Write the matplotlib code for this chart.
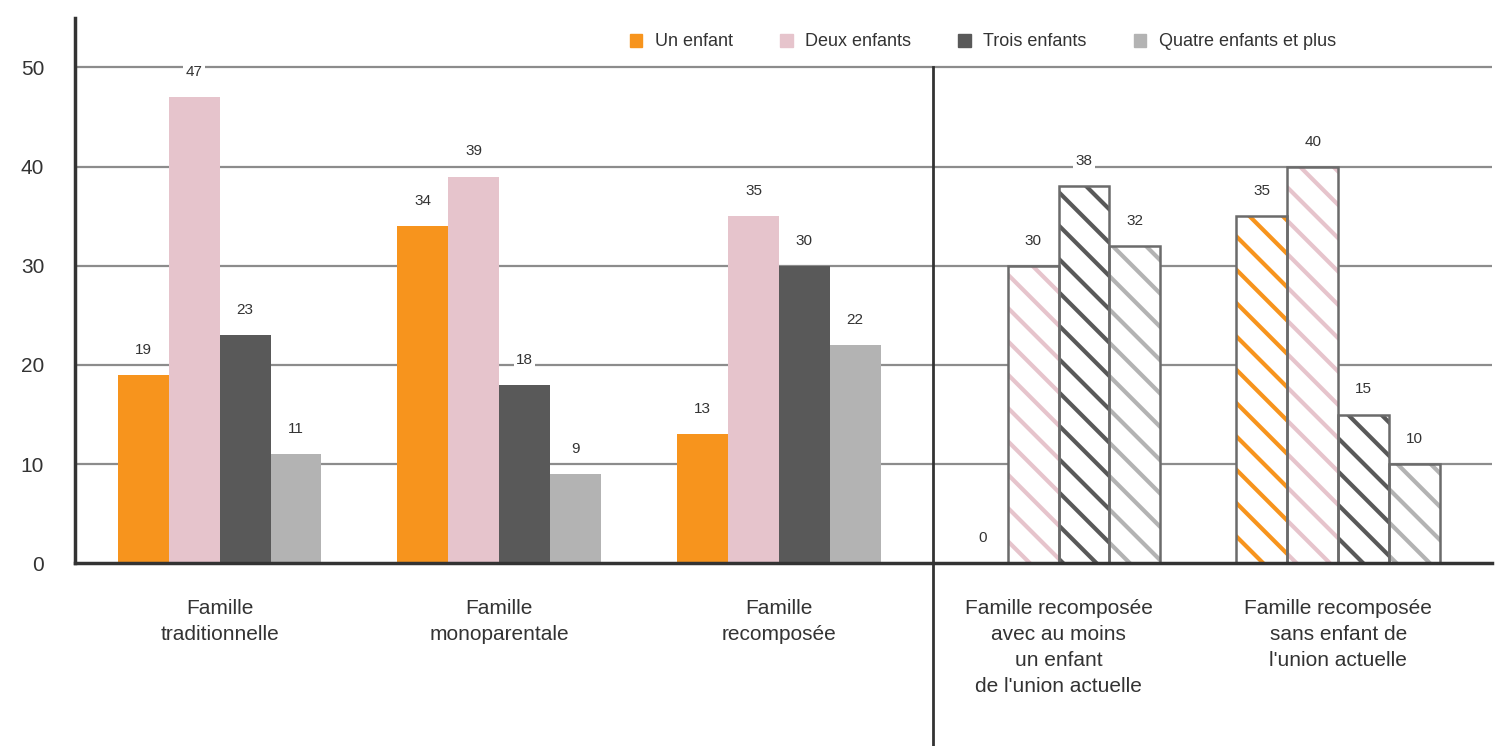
import matplotlib
matplotlib.use("Agg")
import matplotlib.pyplot as plt
import numpy as np
from matplotlib import font_manager

categories = ["Famille\ntraditionnelle", "Famille\nmonoparentale", "Famille\nrecomposée",
              "Famille recomposée\navec au moins\nun enfant\nde l'union actuelle",
              "Famille recomposée\nsans enfant de\nl'union actuelle"]
series_names = ["Un enfant", "Deux enfants", "Trois enfants", "Quatre enfants et plus"]
un_enfant = [19, 34, 13, 0, 35]
deux_enfants = [47, 39, 35, 30, 40]
trois_enfants = [23, 18, 30, 38, 15]
quatre_plus = [11, 9, 22, 32, 10]
hatched_groups = [3, 4]
y_ticks = [0, 10, 20, 30, 40, 50]

colors = ["#F7941D", "#E6C4CC", "#595959", "#B3B3B3"]

names = {f.name for f in font_manager.fontManager.ttflist}
fam = ["Liberation Sans Narrow", "Liberation Sans", "DejaVu Sans"]
fam = [f for f in fam if f in names] + ["DejaVu Sans"]
plt.rcParams['font.family'] = fam
plt.rcParams['hatch.linewidth'] = 3.0

fig = plt.figure(figsize=(14.95, 7.46), dpi=100)
ax = fig.add_axes([0.05, 0.245, 0.948, 0.731])

data = [un_enfant, deux_enfants, trois_enfants, quatre_plus]
w = 0.182
x = np.arange(len(categories))
handles = []
for i, (vals, col) in enumerate(zip(data, colors)):
    xs = x + (i - 1.5) * w
    for g in range(len(categories)):
        v = vals[g]
        if g in hatched_groups:
            if v > 0:
                ax.bar(xs[g], v, w, facecolor="white", edgecolor=col, hatch="\\", linewidth=0, zorder=3)
                ax.bar(xs[g], v, w, fill=False, edgecolor="#6b6b6b", linewidth=1.8, zorder=4)
        else:
            ax.bar(xs[g], v, w, color=col, linewidth=0, zorder=3)
        ax.annotate(str(v), (xs[g], v), xytext=(0, 13), textcoords="offset points",
                    ha="center", va="bottom", fontsize=11, color="#333333", zorder=5,
                    bbox=dict(boxstyle="square,pad=0.15", fc="white", ec="none"))
    handles.append(plt.Rectangle((0, 0), 1, 1, color=col))

ax.set_xlim(-0.518, 4.55)
ax.set_ylim(0, 55)
ax.set_yticks(y_ticks)
ax.set_yticklabels([str(t) for t in y_ticks], fontsize=15, color="#333333")
ax.tick_params(axis="y", length=0, pad=22)
ax.set_xticks(x)
ax.set_xticklabels(categories, fontsize=15, color="#333333", linespacing=1.45, va="top")
ax.tick_params(axis="x", length=0, pad=26)
for t in y_ticks[1:]:
    ax.axhline(t, color="#8c8c8c", linewidth=1.6, zorder=1)
for s in ["top", "right"]:
    ax.spines[s].set_visible(False)
ax.spines["left"].set_linewidth(2.5)
ax.spines["left"].set_color("#333333")
ax.spines["bottom"].set_linewidth(2.5)
ax.spines["bottom"].set_color("#333333")
ax.spines["bottom"].set_zorder(6)

sep = 2.55
ax.plot([sep, sep], [50, -19], color="#333333", linewidth=2, clip_on=False, zorder=6)

fig.legend(handles, series_names, loc="center", bbox_to_anchor=(983 / 1495, 1 - 42 / 746),
           ncol=4, frameon=False, fontsize=13, handlelength=0.7, handleheight=0.7,
           handletextpad=0.7, columnspacing=2.6, labelcolor="#333333")

fig.savefig("out.png", dpi=100, facecolor="white")
